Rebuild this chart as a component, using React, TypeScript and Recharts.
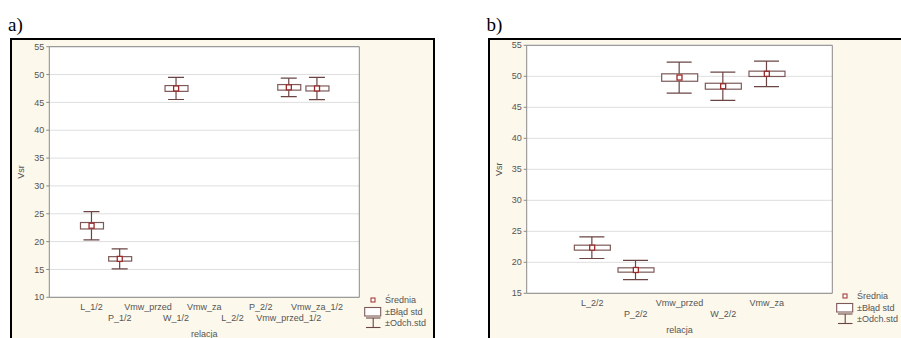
import React from 'react';
import { Bar, CartesianGrid, ComposedChart, Label, Legend, Scatter, XAxis, YAxis } from 'recharts';

// panel a) — first and last slots are empty padding positions
const categoriesA = [' ', 'L_1/2', 'P_1/2', 'Vmw_przed', 'W_1/2', 'Vmw_za', 'L_2/2', 'P_2/2', 'Vmw_przed_1/2', 'Vmw_za_1/2', '  '];
const meansA = [null, 22.85, 16.9, null, 47.5, null, null, null, 47.7, 47.5, null];
const stdErrA = [null, 0.58, 0.4, null, 0.52, null, null, null, 0.5, 0.45, null];
const stdDevA = [null, 2.55, 1.8, null, 1.98, null, null, null, 1.65, 2.0, null];
const yTicksA = [10, 15, 20, 25, 30, 35, 40, 45, 50, 55];

// panel b)
const categoriesB = [' ', 'L_2/2', 'P_2/2', 'Vmw_przed', 'W_2/2', 'Vmw_za', '  '];
const meansB = [null, 22.36, 18.76, 49.8, 48.4, 50.4, null];
const stdErrB = [null, 0.4, 0.35, 0.6, 0.48, 0.43, null];
const stdDevB = [null, 1.75, 1.55, 2.5, 2.28, 2.05, null];
const yTicksB = [15, 20, 25, 30, 35, 40, 45, 50, 55];

const FONT = '"Liberation Sans", Arial, sans-serif';
const TEXT = '#555';
const AXIS = '#8a8a8a';
const GRID = '#dedede';
const WHISKER = '#6b4545';
const BOX = '#7d5a5a';
const MEAN = '#9c2a2a';
const FRAME_BG = '#fcf8ec';

type Row = { name: string; mean: number | null; se: number[] | null; sd: number[] | null };

function buildRows(cats: string[], means: (number | null)[], se: (number | null)[], sd: (number | null)[]): Row[] {
  return cats.map((name, i) => {
    const m = means[i];
    if (m == null) return { name, mean: null, se: null, sd: null };
    return {
      name,
      mean: m,
      se: [m - (se[i] as number), m + (se[i] as number)],
      sd: [m - (sd[i] as number), m + (sd[i] as number)],
    };
  });
}

const rowsA = buildRows(categoriesA, meansA, stdErrA, stdDevA);
const rowsB = buildRows(categoriesB, meansB, stdErrB, stdDevB);

function Whisker(props: any) {
  const { x, y, width, height, payload } = props;
  if (!payload || payload.mean == null) return <g />;
  const cx = x + width / 2;
  return (
    <g stroke={WHISKER} strokeWidth={1.2}>
      <line x1={cx} x2={cx} y1={y} y2={y + height} />
      <line x1={x} x2={x + width} y1={y} y2={y} />
      <line x1={x} x2={x + width} y1={y + height} y2={y + height} />
    </g>
  );
}

function StdBox(props: any) {
  const { x, y, width, height, payload } = props;
  if (!payload || payload.mean == null) return <g />;
  return <rect x={x} y={y} width={width} height={height} fill="#fff" stroke={BOX} strokeWidth={1.2} />;
}

function MeanMark(props: any) {
  const { cx, cy, payload } = props;
  if (!payload || payload.mean == null || !Number.isFinite(cy)) return <g />;
  return <rect x={cx - 2.5} y={cy - 2.5} width={5} height={5} fill="#fff" stroke={MEAN} strokeWidth={1.3} />;
}

function CategoryTick(props: any) {
  const { x, y, payload } = props;
  const idx = props.index ?? payload.index ?? 0;
  const row = idx % 2 === 1 ? 0 : 1;
  return (
    <text x={x} y={y + 13 + row * 11} textAnchor="middle" fontSize={9} fill={TEXT} fontFamily={FONT}>
      {payload.value}
    </text>
  );
}

function StatLegend() {
  return (
    <svg width={75} height={36} style={{ overflow: 'visible', display: 'block' }} fontFamily={FONT}>
      <rect x={8} y={4} width={4} height={4} fill="#fff" stroke={MEAN} strokeWidth={1} />
      <text x={22} y={9.2} fontSize={9} fill={TEXT}>Średnia</text>
      <rect x={1.7} y={13.5} width={16} height={8.5} fill="#fff" stroke={BOX} strokeWidth={1.1} />
      <text x={22} y={20.9} fontSize={9} fill={TEXT}>±Błąd std</text>
      <g stroke={WHISKER} strokeWidth={1.1}>
        <line x1={3} x2={17.5} y1={24} y2={24} />
        <line x1={10.2} x2={10.2} y1={24} y2={33.5} />
        <line x1={3} x2={17.5} y1={33.5} y2={33.5} />
      </g>
      <text x={22} y={31.7} fontSize={9} fill={TEXT}>±Odch.std</text>
    </svg>
  );
}

function VsrLabel(props: any) {
  const vb = props.viewBox || {};
  const cx = vb.x + 2;
  const cy = vb.y + vb.height / 2;
  return (
    <text x={cx} y={cy} transform={`rotate(-90 ${cx} ${cy})`} textAnchor="middle" dominantBaseline="central" fontSize={9} fill={TEXT} fontFamily={FONT}>
      Vsr
    </text>
  );
}

function RelacjaLabel(props: any) {
  const vb = props.viewBox || {};
  return (
    <text x={vb.x + vb.width / 2} y={vb.y + 39.6} textAnchor="middle" fontSize={9} fill={TEXT} fontFamily={FONT}>
      relacja
    </text>
  );
}

interface PanelProps {
  rows: Row[];
  yTicks: number[];
  left: number;
  width: number;
  margin: { top: number; right: number; bottom: number; left: number };
  boxSize: number;
  capSize: number;
  legendPos: { left: number; top: number };
}

function Panel({ rows, yTicks, left, width, margin, boxSize, capSize, legendPos }: PanelProps) {
  const domain = [yTicks[0], yTicks[yTicks.length - 1]];
  return (
    <div style={{ position: 'absolute', left, top: 0 }}>
      <ComposedChart width={width} height={338} data={rows} margin={margin} style={{ fontFamily: FONT }}>
        <CartesianGrid vertical={false} stroke={GRID} fill="#fff" />
        <XAxis
          dataKey="name"
          interval={0}
          height={30}
          tickLine={false}
          tickSize={0}
          tickMargin={0}
          axisLine={{ stroke: AXIS }}
          tick={<CategoryTick />}
        >
          <Label content={RelacjaLabel} />
        </XAxis>
        <XAxis xAxisId="se" dataKey="name" hide />
        <XAxis
          xAxisId="top"
          dataKey="name"
          orientation="top"
          mirror
          interval={0}
          tick={false}
          tickSize={3}
          axisLine={{ stroke: AXIS }}
          tickLine={{ stroke: AXIS }}
        />
        <XAxis
          xAxisId="bottomTicks"
          dataKey="name"
          orientation="bottom"
          mirror
          interval={0}
          tick={false}
          tickSize={3}
          axisLine={false}
          tickLine={{ stroke: AXIS }}
        />
        <YAxis
          domain={domain}
          ticks={yTicks}
          allowDataOverflow
          width={30}
          tickSize={3}
          tickMargin={2}
          axisLine={{ stroke: AXIS }}
          tickLine={{ stroke: AXIS }}
          tick={{ fontSize: 9, fill: TEXT, fontFamily: FONT }}
        >
          <Label content={VsrLabel} />
        </YAxis>
        <YAxis
          yAxisId="right"
          orientation="right"
          mirror
          domain={domain}
          ticks={yTicks}
          allowDataOverflow
          tick={false}
          tickSize={3}
          axisLine={{ stroke: AXIS }}
          tickLine={{ stroke: AXIS }}
        />
        <Bar dataKey="sd" barSize={capSize} shape={<Whisker />} isAnimationActive={false} />
        <Bar xAxisId="se" dataKey="se" barSize={boxSize} shape={<StdBox />} isAnimationActive={false} />
        <Scatter dataKey="mean" shape={<MeanMark />} isAnimationActive={false} />
        <Legend
          layout="vertical"
          align="center"
          verticalAlign="middle"
          content={() => <StatLegend />}
          wrapperStyle={{ left: legendPos.left, top: legendPos.top, width: 75, height: 36 }}
        />
      </ComposedChart>
    </div>
  );
}

export default function App() {
  const panelLabel: React.CSSProperties = {
    position: 'absolute',
    top: 15,
    fontFamily: '"Liberation Serif", "Times New Roman", serif',
    fontSize: 19,
    lineHeight: '19px',
    color: '#000',
  };
  return (
    <div style={{ position: 'absolute', left: 0, top: 0, width: 901, height: 338, overflow: 'hidden', background: '#fff' }}>
      <div style={{ ...panelLabel, left: 8 }}>a)</div>
      <div style={{ ...panelLabel, left: 486.5 }}>b)</div>
      <div
        style={{
          position: 'absolute',
          left: 10,
          top: 38,
          width: 425,
          height: 320,
          boxSizing: 'border-box',
          border: '2.5px solid #000',
          background: FRAME_BG,
        }}
      />
      <div
        style={{
          position: 'absolute',
          left: 488,
          top: 38,
          width: 430,
          height: 320,
          boxSizing: 'border-box',
          border: '2.5px solid #000',
          background: FRAME_BG,
        }}
      />
      <Panel
        rows={rowsA}
        yTicks={yTicksA}
        left={0}
        width={440}
        margin={{ top: 46.7, right: 80.7, bottom: 10.7, left: 19.3 }}
        boxSize={23}
        capSize={16}
        legendPos={{ left: 362.5, top: 294.3 }}
      />
      <Panel
        rows={rowsB}
        yTicks={yTicksB}
        left={450}
        width={451}
        margin={{ top: 45.3, right: 68.7, bottom: 14.7, left: 46.7 }}
        boxSize={36}
        capSize={25}
        legendPos={{ left: 385, top: 289.7 }}
      />
    </div>
  );
}
